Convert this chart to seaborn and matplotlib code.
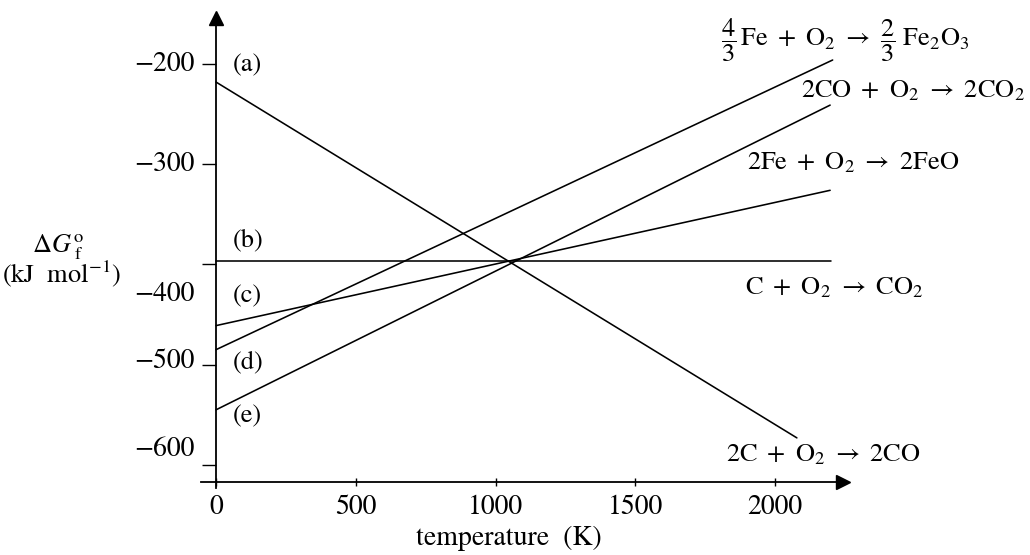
import numpy as np
import pandas as pd
import matplotlib
matplotlib.use("Agg")
import matplotlib.pyplot as plt
import seaborn as sns

# ---- data ----
reactions = ["a", "b", "c", "d", "e"]
T_start = [0, 0, 0, 0, 0]
T_end = [2078, 2200, 2197, 2206, 2197]
G_start = [-218, -397, -461, -485, -545]
G_end = [-573, -397, -326, -196, -241]

left_tags = ["(a)", "(b)", "(c)", "(d)", "(e)"]
right_labels = [
    r"$\mathrm{2C\ +\ O_2\ \rightarrow\ 2CO}$",
    r"$\mathrm{C\ +\ O_2\ \rightarrow\ CO_2}$",
    r"$\mathrm{2Fe\ +\ O_2\ \rightarrow\ 2FeO}$",
    r"$\dfrac{4}{3}\,\mathrm{Fe\ +\ O_2\ \rightarrow\ }\dfrac{2}{3}\ \mathrm{Fe_2O_3}$",
    r"$\mathrm{2CO\ +\ O_2\ \rightarrow\ 2CO_2}$",
]
x_ticks = [0, 500, 1000, 1500, 2000]
y_ticks = [-200, -300, -400, -500, -600]
y_tick_labels = ["\u2212200", "\u2212300", "\u2212400", "\u2212500", "\u2212600"]

# ---- layout (positions only) ----
left_tag_pos = [(60, -201), (60, -376), (60, -432), (60, -498), (60, -552)]
right_label_pos = [(1805, -176), (2094, -227)]
right_label_pos = [(1826, -590), (1894, -424), (1901, -299)] + right_label_pos
ytick_label_y = [-200, -300, -430, -497, -585]

rows = []
for r, t0, t1, g0, g1 in zip(reactions, T_start, T_end, G_start, G_end):
    rows.append({"reaction": r, "T": t0, "G": g0})
    rows.append({"reaction": r, "T": t1, "G": g1})
df = pd.DataFrame(rows)

sns.set_theme(style="ticks")
plt.rcParams["font.family"] = ["STIXGeneral", "DejaVu Serif"]
plt.rcParams["mathtext.fontset"] = "stix"
plt.rcParams["text.color"] = "black"
plt.rcParams["axes.edgecolor"] = "black"
plt.rcParams["xtick.color"] = "black"
plt.rcParams["ytick.color"] = "black"

fig = plt.figure(figsize=(10.3, 5.55), dpi=100)
ax = fig.add_axes([201 / 1030, (555 - 488) / 555, 642 / 1030, 470 / 555])

sns.lineplot(data=df, x="T", y="G", units="reaction", estimator=None,
             color="black", lw=1.15, ax=ax, legend=False)

ax.set_xlim(-53.7, 2243)
ax.set_ylim(-623, -154.1)
ax.set_xlabel("")
ax.set_ylabel("")

for s in ["top", "right"]:
    ax.spines[s].set_visible(False)
ax.spines["left"].set_position(("data", 0))
ax.spines["bottom"].set_position(("data", -617))
for s in ["left", "bottom"]:
    ax.spines[s].set_linewidth(1.3)
    ax.spines[s].set_color("black")

# arrow heads
ax.plot(1, -617, ">", color="black", ms=10, transform=ax.get_yaxis_transform(), clip_on=False)
ax.plot(0, 1, "^", color="black", ms=10, transform=ax.get_xaxis_transform(), clip_on=False)

ax.set_xticks(x_ticks)
ax.set_xticklabels([str(v) for v in x_ticks])
ax.tick_params(axis="x", direction="inout", length=6, width=1, pad=6, labelsize=20)
ax.set_yticks(y_ticks)
ax.set_yticklabels([""] * len(y_ticks))
ax.tick_params(axis="y", direction="out", length=10, width=1)

for lab, y in zip(y_tick_labels, ytick_label_y):
    ax.text(-75, y, lab, ha="right", va="center", fontsize=20)

for tag, (x, y) in zip(left_tags, left_tag_pos):
    ax.text(x, y, tag, ha="left", va="center", fontsize=19)

for lab, (x, y) in zip(right_labels, right_label_pos):
    ax.text(x, y, lab, ha="left", va="center", fontsize=19)

fig.text(58 / 1030, 1 - 247 / 555, r"$\Delta G^{\mathrm{o}}_{\ \mathrm{f}}$",
         ha="center", va="center", fontsize=19)
fig.text(62 / 1030, 1 - 274 / 555, "(kJ  mol$^{-1}$)", ha="center", va="center", fontsize=19)
fig.text(509 / 1030, 1 - 538 / 555, "temperature  (K)", ha="center", va="center", fontsize=20)

fig.savefig("out.png", dpi=100, facecolor="white")
